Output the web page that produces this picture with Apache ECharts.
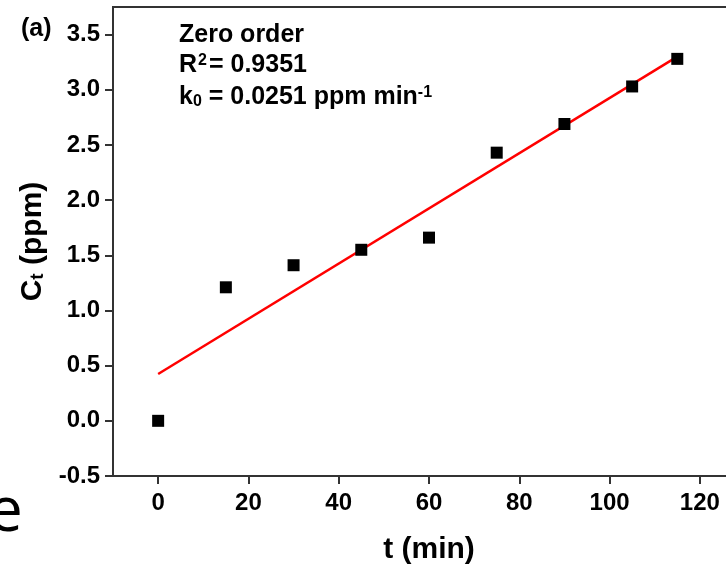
<!DOCTYPE html>
<html>
<head>
<meta charset="utf-8">
<script src="https://cdn.jsdelivr.net/npm/echarts@6/dist/echarts.min.js"></script>
<style>
html,body{margin:0;padding:0;background:#fff;}
#chart{width:726px;height:569px;}
</style>
</head>
<body>
<div id="chart"></div>
<script>
// ---- data ----
const timeMin = [0, 15, 30, 45, 60, 75, 90, 105, 115];
const ctPpm   = [0.00, 1.21, 1.41, 1.55, 1.66, 2.43, 2.69, 3.03, 3.28];
const fitX    = [0, 115];
const fitY    = [0.424, 3.30];
const xTicks  = [0, 20, 40, 60, 80, 100, 120];
const yTicks  = [-0.5, 0.0, 0.5, 1.0, 1.5, 2.0, 2.5, 3.0, 3.5];
const panelLabel = '(a)';
const modelName  = 'Zero order';
const r2Value    = '0.9351';
const kValue     = '0.0251';

const FONT = '"Liberation Sans", Arial, sans-serif';
const SIDE_FONT = '"Open Sans", "Noto Sans", sans-serif';
const chart = echarts.init(document.getElementById('chart'), null, {renderer: 'canvas'});

const scatterData = timeMin.map((t, i) => [t, ctPpm[i]]);
const fitData = fitX.map((t, i) => [t, fitY[i]]);

const axisCommon = {
  axisLine: {show: true, onZero: false, lineStyle: {color: '#333', width: 2}},
  axisTick: {show: true, inside: false, length: 8, lineStyle: {color: '#333', width: 2}},
  splitLine: {show: false}
};

const option = {
  animation: false,
  backgroundColor: '#fff',
  title: [
    {text: 's', left: -22, top: 298, padding: 0, itemGap: 0,
     textStyle: {color: '#000', fontFamily: SIDE_FONT, fontWeight: 'normal', fontSize: 50, lineHeight: 56}},
    {text: 'e', left: -12, top: 478, padding: 0, itemGap: 0,
     textStyle: {color: '#000', fontFamily: SIDE_FONT, fontWeight: 'normal', fontSize: 62, lineHeight: 70}}
  ],
  grid: {
    left: 113, top: 7, right: -19, bottom: 93,
    show: true, borderColor: '#333', borderWidth: 2,
    containLabel: false, outerBoundsMode: 'none'
  },
  xAxis: Object.assign({}, axisCommon, {
    type: 'value', min: -10, max: 130,
    axisTick: Object.assign({}, axisCommon.axisTick, {customValues: xTicks}),
    axisLabel: {customValues: xTicks, margin: 15, color: '#000', fontFamily: FONT, fontWeight: 'bold', fontSize: 24},
    name: 't (min)', nameLocation: 'middle', nameGap: 59,
    nameTextStyle: {color: '#000', fontFamily: FONT, fontWeight: 'bold', fontSize: 30}
  }),
  yAxis: Object.assign({}, axisCommon, {
    type: 'value', min: -0.5, max: 3.75,
    axisTick: Object.assign({}, axisCommon.axisTick, {customValues: yTicks}),
    axisLabel: {customValues: yTicks, margin: 13, color: '#000', fontFamily: FONT, fontWeight: 'bold', fontSize: 24,
      formatter: v => v.toFixed(1)},
    name: 'C{sub|t} (ppm)', nameLocation: 'middle', nameGap: 57,
    nameTextStyle: {color: '#000', fontFamily: FONT, fontWeight: 'bold', fontSize: 30,
      rich: {sub: {fontFamily: FONT, fontWeight: 'bold', fontSize: 19, verticalAlign: 'bottom', color: '#000', padding: [12, 0, 0, 0]}}}
  }),
  series: [
    {
      type: 'line', data: fitData, showSymbol: false, symbol: 'none',
      lineStyle: {color: '#ff0000', width: 2.5}, z: 3, silent: true
    },
    {
      type: 'scatter', data: scatterData, symbol: 'rect', symbolSize: 12,
      itemStyle: {color: '#000', opacity: 1}, z: 4, silent: true
    }
  ],
  graphic: [
    {type: 'text', left: 21, top: 17, style: {text: panelLabel, fill: '#000', font: 'bold 25px ' + FONT}},
    {type: 'text', x: 179, y: 35, style: {text: modelName, fill: '#000', font: 'bold 25px ' + FONT, verticalAlign: 'middle'}},
    {type: 'text', x: 179, y: 65, style: {
      text: 'R{sup|2}= ' + r2Value, fill: '#000', font: 'bold 25px ' + FONT, verticalAlign: 'middle',
      rich: {sup: {font: 'bold 16px ' + FONT, fill: '#000', verticalAlign: 'top', padding: [0, 2, 8, 1]}}
    }},
    {type: 'text', x: 179, y: 97, style: {
      text: 'k{sub|0} = ' + kValue + ' ppm min{sup|-1}', fill: '#000', font: 'bold 25px ' + FONT, verticalAlign: 'middle',
      rich: {
        sub: {font: 'bold 16px ' + FONT, fill: '#000', verticalAlign: 'bottom', padding: [9, 0, 0, 0]},
        sup: {font: 'bold 16px ' + FONT, fill: '#000', verticalAlign: 'top', padding: [0, 0, 9, 0]}
      }
    }}
  ]
};
chart.setOption(option);
if (document.fonts && document.fonts.ready) {
  document.fonts.ready.then(() => { chart.setOption(option, true); });
}
</script>
</body>
</html>
